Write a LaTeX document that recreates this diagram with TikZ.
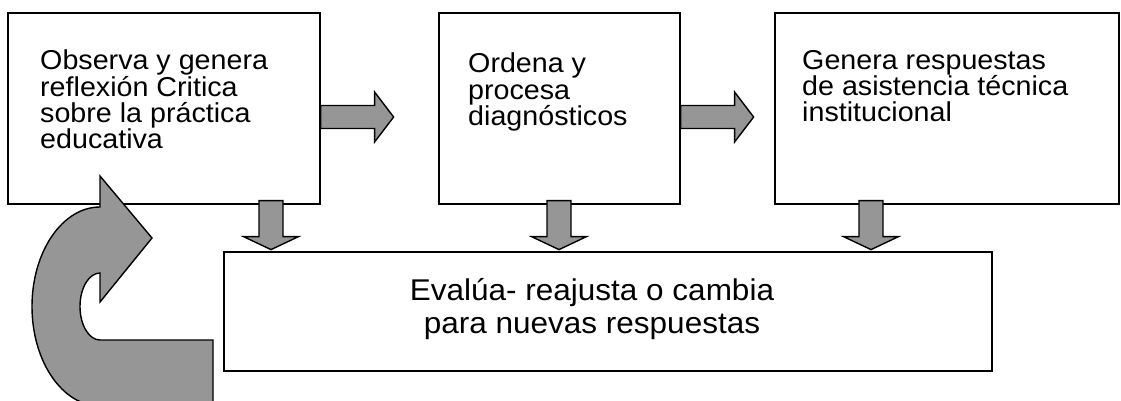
\documentclass[tikz,border=0pt]{standalone}
\usepackage{fontspec}
\setmainfont[FakeStretch=1.05]{Liberation Sans}
\usetikzlibrary{calc}
\definecolor{arrowGray}{RGB}{150,150,150}

\begin{document}
\begin{tikzpicture}
[x=1pt,y=-1pt,
  boxDecorate/.style={shape=rectangle,draw,line width=1.6pt,inner sep=0pt,anchor=north west},%
  textDecorate/.style={inner sep=0pt,anchor=north west,align=left,font=\fontsize{27.3}{26.3}\selectfont},%
  arrowDecorate/.style={draw,fill=arrowGray,line width=1.4pt,line join=miter}]
\clip (0,0) rectangle (1121,400);
%% boxes
\foreach \nodename/\x/\y/\w/\h in {obs/7/12/312/191, ord/438/12/241/191, gen/774/12/344/191, eva/223/251/768/119} {
  \node (\nodename) at (\x,\y) [boxDecorate,minimum width=\w pt,minimum height=\h pt] {};
}
%% texts
\node (obsText) at (40,50) [textDecorate] {Observa y genera\\reflexión Critica\\sobre la práctica\\educativa};
\node (ordText) at (468,53) [textDecorate] {Ordena y\\procesa\\diagnósticos};
\node (genText) at (802,50) [textDecorate] {Genera respuestas\\de asistencia técnica\\institucional};
\node (evaText) at (592,278) [textDecorate,anchor=north,align=center,font=\fontsize{30}{33}\selectfont] {Evalúa- reajusta o cambia\\para nuevas respuestas};
%% arrows to the right
\foreach \from in {obs, ord} {
  \draw[arrowDecorate] (\from.east |- 0,105.5) -- ++(54,0) -- ++(0,-13.5) -- ++(19,25)
    -- ++(-19,25) -- ++(0,-13.5) -- ++(-54,0) -- cycle;
}
%% arrows down
\foreach \from/\cx in {obs/271, ord/559, gen/871} {
  \draw[arrowDecorate] ($(\cx,0 |- \from.south)+(-12,-4)$) -- ++(0,36) -- ++(-15.5,0) -- ++(27.5,13)
    -- ++(27.5,-13) -- ++(-15.5,0) -- ++(0,-36) -- cycle;
}
%% turning arrow
\draw[arrowDecorate] (213,340) -- (100,340) arc[start angle=90,end angle=270,x radius=20,y radius=33.5]
  -- (100,302) -- (152,238) -- (100,176) -- (100,207)
  arc[start angle=270,end angle=90,x radius=68,y radius=99.5] -- (213,406) -- cycle;
\end{tikzpicture}
\end{document}
